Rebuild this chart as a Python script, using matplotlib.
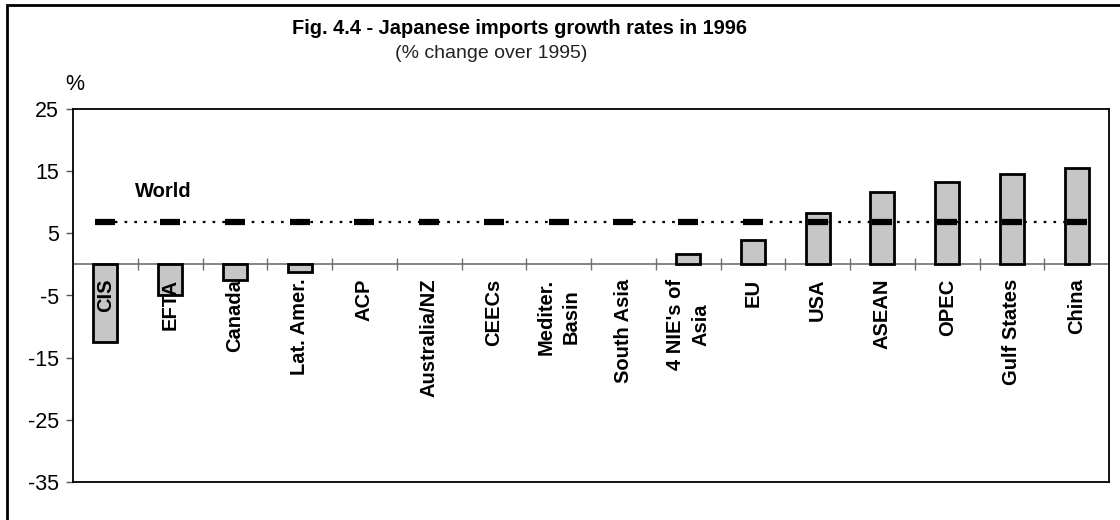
import matplotlib
matplotlib.use("Agg")
import matplotlib.pyplot as plt
import numpy as np
from matplotlib.patches import Rectangle

plt.rcParams['font.family'] = ['Liberation Sans', 'DejaVu Sans']

categories = ["CIS", "EFTA", "Canada", "Lat. Amer.", "ACP", "Australia/NZ", "CEECs",
              "Mediter.\nBasin", "South Asia", "4 NIE's of\nAsia", "EU", "USA",
              "ASEAN", "OPEC", "Gulf States", "China"]
growth = [-12.5, -5.0, -2.5, -1.2, 0.0, 0.0, 0.0, 0.0, 0.0, 1.7, 4.0, 8.2,
          11.7, 13.3, 14.6, 15.5]
world = [6.9] * len(categories)
yticks = [-35, -25, -15, -5, 5, 15, 25]

W, H = 1120, 520
fig = plt.figure(figsize=(W / 100, H / 100), dpi=100)
ax = fig.add_axes([73 / W, (H - 482) / H, (1109 - 73) / W, (482 - 109) / H])

x = np.arange(len(categories))
edges = ['black' if v != 0 else 'none' for v in growth]
ax.bar(x, growth, width=0.37, color='#c6c6c6', edgecolor=edges, linewidth=2, zorder=2)

# zero line with category-boundary ticks
ax.axhline(0, color='#707070', lw=1.2, zorder=1)
bounds = np.arange(len(categories) - 1) + 0.5
ax.plot(bounds, np.zeros_like(bounds), ls='none', marker='|', ms=8, mew=1,
        color='#707070', zorder=1)

# world reference
ax.plot(x, world, ls=(0, (1.2, 3.2)), lw=1.6, color='black', zorder=3)
ax.plot(x, world, ls='none', marker='_', ms=14, mew=4.5, color='black', zorder=4)
ax.text(0.46, 11.8, "World", fontsize=14.5, fontweight='bold', ha='left', va='center')

for xi, lab in zip(x, categories):
    ax.text(xi, -2.3, lab, rotation=90, ha='center', va='top', multialignment='center',
            fontsize=14.5, fontweight='bold', zorder=5, linespacing=1.45)

ax.set_xlim(-0.5, len(categories) - 0.5)
ax.set_ylim(-35, 25)
ax.set_xticks([])
ax.set_yticks(yticks)
ax.set_yticklabels([str(v) for v in yticks], fontsize=15.5)
ax.tick_params(axis='y', direction='out', length=5, width=1, pad=5, color='#555555')
for s in ax.spines.values():
    s.set_color('black')
    s.set_linewidth(1.3)

fig.text(75 / W, 1 - 84 / H, "%", fontsize=15.5, ha='center', va='center')
fig.text(519 / W, 1 - 28 / H, "Fig. 4.4 - Japanese imports growth rates in 1996",
         fontsize=14.4, fontweight='bold', ha='center', va='center')
fig.text(491 / W, 1 - 53 / H, "(% change over 1995)", fontsize=14, ha='center', va='center',
         color='#222222')

# outer frame
fig.add_artist(Rectangle((7 / W, -0.05), 1.2, (H - 5) / H + 0.05, transform=fig.transFigure,
                         fill=False, edgecolor='black', lw=2))

fig.savefig("out.png", dpi=100, facecolor='white')
